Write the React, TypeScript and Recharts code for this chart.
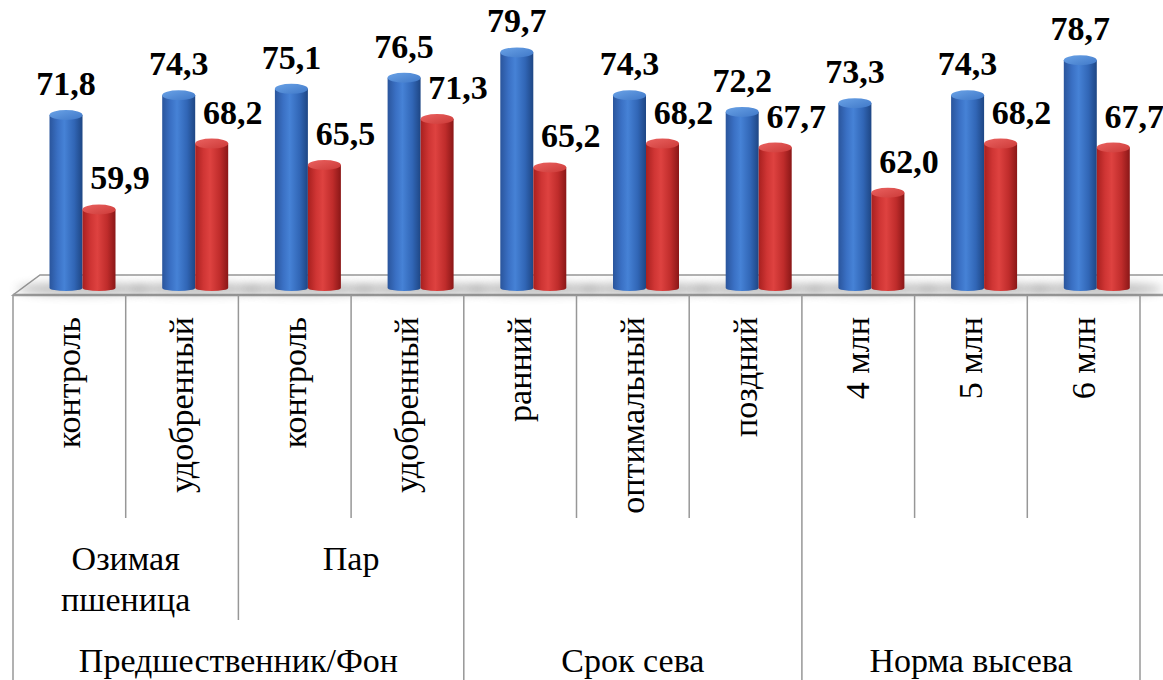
import React from 'react';
import { BarChart, Bar, XAxis, YAxis, ReferenceArea, LabelList } from 'recharts';

// Leaf categories along the axis and the two measured series
const leafLabels = [
  'контроль', 'удобренный', 'контроль', 'удобренный',
  'ранний', 'оптимальный', 'поздний',
  '4 млн', '5 млн', '6 млн',
];
const blueValues = [71.8, 74.3, 75.1, 76.5, 79.7, 74.3, 72.2, 73.3, 74.3, 78.7];
const redValues = [59.9, 68.2, 65.5, 71.3, 65.2, 68.2, 67.7, 62.0, 68.2, 67.7];

// Second axis level (only the first factor has one)
const subGroups = [
  { lines: ['Озимая', 'пшеница'], start: 0, span: 2 },
  { lines: ['Пар'], start: 2, span: 2 },
];
// Top axis level
const topGroups = [
  { label: 'Предшественник/Фон', start: 0, span: 4 },
  { label: 'Срок сева', start: 4, span: 3 },
  { label: 'Норма высева', start: 7, span: 3 },
];

const valueDomain = [50, 80];

const data = leafLabels.map((leaf, i) => ({
  slot: String(i),
  leaf,
  blue: blueValues[i],
  red: redValues[i],
}));

const W = 1163;
const H = 680;
const FONT = "'Liberation Serif', 'Times New Roman', Times, serif";
const FONT_SIZE = 34;
const textStyle = { fontFamily: FONT, fontSize: FONT_SIZE };
const valueStyle = { ...textStyle, fontWeight: 'bold' as const };

// pseudo-3D projection of the floor and bars
const DEPTH_X = 27;
const DEPTH_Y = 20;
const BAR_DX = 13.5;
const BAR_DY = 7;
const TOP_RY = 5;
const BOTTOM_RY = 3;

// axis table rows
const AXIS_H = 385;
const LEAF_ROW = 223;
const SUB_ROW = 102;
const GRID = '#979797';

const fmt = (v: any) => Number(v).toFixed(1).replace('.', ',');

const Floor = (props: any) => {
  const { x, y, width, height } = props;
  if (x == null || width == null) return null;
  const xl = Number(x);
  const xr = xl + Number(width);
  const yf = Number(y) + Number(height);
  return (
    <g>
      <polygon
        points={`${xl},${yf} ${xr},${yf} ${xr + DEPTH_X},${yf - DEPTH_Y} ${xl + DEPTH_X},${yf - DEPTH_Y}`}
        fill="#fdfdfd"
        stroke={GRID}
        strokeWidth={1.5}
      />
      <line x1={xl} y1={yf} x2={xr} y2={yf} stroke="#9c9c9c" strokeWidth={2.5} />
    </g>
  );
};

const makeCylinder = (bodyId: string, topId: string, withShadow: boolean) => (props: any) => {
  const { x, y, width, height } = props;
  if (x == null || width == null || height == null) return null;
  const w = Number(width);
  const l = Number(x) + BAR_DX;
  const r = l + w;
  const rx = w / 2;
  const t = Number(y) - BAR_DY;
  const b = Number(y) + Number(height) - BAR_DY;
  return (
    <g>
      {withShadow && (
        <ellipse cx={r} cy={b + 1} rx={w * 2} ry={6} fill="#6e6e6e" opacity={0.45} filter="url(#floorBlur)" />
      )}
      <path
        d={`M${l},${t} L${l},${b} A${rx},${BOTTOM_RY} 0 0 0 ${r},${b} L${r},${t} Z`}
        fill={`url(#${bodyId})`}
      />
      <ellipse cx={l + rx} cy={t} rx={rx} ry={TOP_RY} fill={`url(#${topId})`} />
    </g>
  );
};

const blueShape = makeCylinder('blueBody', 'blueTop', true);
const redShape = makeCylinder('redBody', 'redTop', false);

const makeLabel = (shift: number) => (props: any) => {
  const vb = props.viewBox || {};
  const bx = Number(props.x ?? vb.x);
  const by = Number(props.y ?? vb.y);
  const bw = Number(props.width ?? vb.width);
  if (!isFinite(bx) || !isFinite(by)) return null;
  return (
    <text
      x={bx + bw / 2 + BAR_DX + shift}
      y={by - BAR_DY - TOP_RY - 15}
      textAnchor="middle"
      style={valueStyle}
      fill="#000"
    >
      {fmt(props.value)}
    </text>
  );
};

const blueLabel = makeLabel(0);
const redLabel = makeLabel(21);

const CategoryTick = (props: any) => {
  const { x, y, payload, index } = props;
  const n = leafLabels.length;
  const band = payload && payload.offset ? payload.offset * 2 : Number(props.width) / n;
  const i = Number(index);
  const left = x - band / 2;
  const right = x + band / 2;
  const top = y;
  const leafBottom = top + LEAF_ROW;
  const subBottom = leafBottom + SUB_ROW;
  const bottom = top + (Number(props.height) || AXIS_H);

  const topStart = topGroups.find((g) => g.start === i);
  const subStart = subGroups.find((g) => g.start === i);
  const lineEnd = topStart ? bottom : subStart ? subBottom : leafBottom;

  return (
    <g>
      <line x1={left} y1={top} x2={left} y2={lineEnd} stroke={GRID} strokeWidth={1.5} />
      {i === n - 1 && <line x1={right} y1={top} x2={right} y2={bottom} stroke={GRID} strokeWidth={1.5} />}
      <text
        x={x + 11}
        y={top + 22}
        transform={`rotate(-90 ${x + 11} ${top + 22})`}
        textAnchor="end"
        style={textStyle}
        fill="#000"
      >
        {leafLabels[i]}
      </text>
      {subStart && (
        <text
          x={left + (subStart.span * band) / 2}
          y={leafBottom + 52}
          textAnchor="middle"
          style={textStyle}
          fill="#000"
        >
          {subStart.lines.map((ln, k) => (
            <tspan key={k} x={left + (subStart.span * band) / 2} dy={k === 0 ? 0 : 41}>
              {ln}
            </tspan>
          ))}
        </text>
      )}
      {topStart && (
        <text
          x={left + (topStart.span * band) / 2}
          y={subBottom + 52}
          textAnchor="middle"
          style={textStyle}
          fill="#000"
        >
          {topStart.label}
        </text>
      )}
    </g>
  );
};

export default function App() {
  return (
    <div style={{ position: 'absolute', left: 0, top: 0, width: W, height: H, background: '#fff' }}>
      <BarChart
        width={W}
        height={H}
        data={data}
        margin={{ top: 57, right: 23, bottom: 0, left: 13 }}
        barGap={0}
      >
        <defs>
          <linearGradient id="blueBody" x1="0" y1="0" x2="1" y2="0">
            <stop offset="0%" stopColor="#2a559c" />
            <stop offset="25%" stopColor="#3a70c4" />
            <stop offset="45%" stopColor="#4682d6" />
            <stop offset="75%" stopColor="#3166b6" />
            <stop offset="100%" stopColor="#1e4684" />
          </linearGradient>
          <linearGradient id="blueTop" x1="0" y1="0" x2="1" y2="1">
            <stop offset="0%" stopColor="#6aa2e6" />
            <stop offset="100%" stopColor="#3f78c8" />
          </linearGradient>
          <linearGradient id="redBody" x1="0" y1="0" x2="1" y2="0">
            <stop offset="0%" stopColor="#a8201f" />
            <stop offset="25%" stopColor="#cf3534" />
            <stop offset="45%" stopColor="#de4240" />
            <stop offset="75%" stopColor="#bf2c2b" />
            <stop offset="100%" stopColor="#8a1717" />
          </linearGradient>
          <linearGradient id="redTop" x1="0" y1="0" x2="1" y2="1">
            <stop offset="0%" stopColor="#ea6260" />
            <stop offset="100%" stopColor="#cc3a38" />
          </linearGradient>
          <filter id="floorBlur" x="-50%" y="-200%" width="200%" height="500%">
            <feGaussianBlur stdDeviation="5" />
          </filter>
        </defs>
        <XAxis
          dataKey="slot"
          height={AXIS_H}
          interval={0}
          tickLine={false}
          axisLine={false}
          tickSize={0}
          tickMargin={0}
          tick={(p: any) => <CategoryTick {...p} />}
        />
        <XAxis xAxisId="floor" type="number" domain={[0, leafLabels.length]} hide />
        <YAxis hide type="number" domain={valueDomain} />
        <ReferenceArea
          xAxisId="floor"
          x1={0}
          x2={leafLabels.length}
          y1={valueDomain[0]}
          y2={valueDomain[0] + 2}
          shape={(p: any) => <Floor {...p} />}
          zIndex={-10}
          ifOverflow="visible"
        />
        <Bar dataKey="blue" barSize={33} shape={blueShape} isAnimationActive={false}>
          <LabelList dataKey="blue" content={blueLabel} />
        </Bar>
        <Bar dataKey="red" barSize={33} shape={redShape} isAnimationActive={false}>
          <LabelList dataKey="red" content={redLabel} />
        </Bar>
      </BarChart>
    </div>
  );
}
